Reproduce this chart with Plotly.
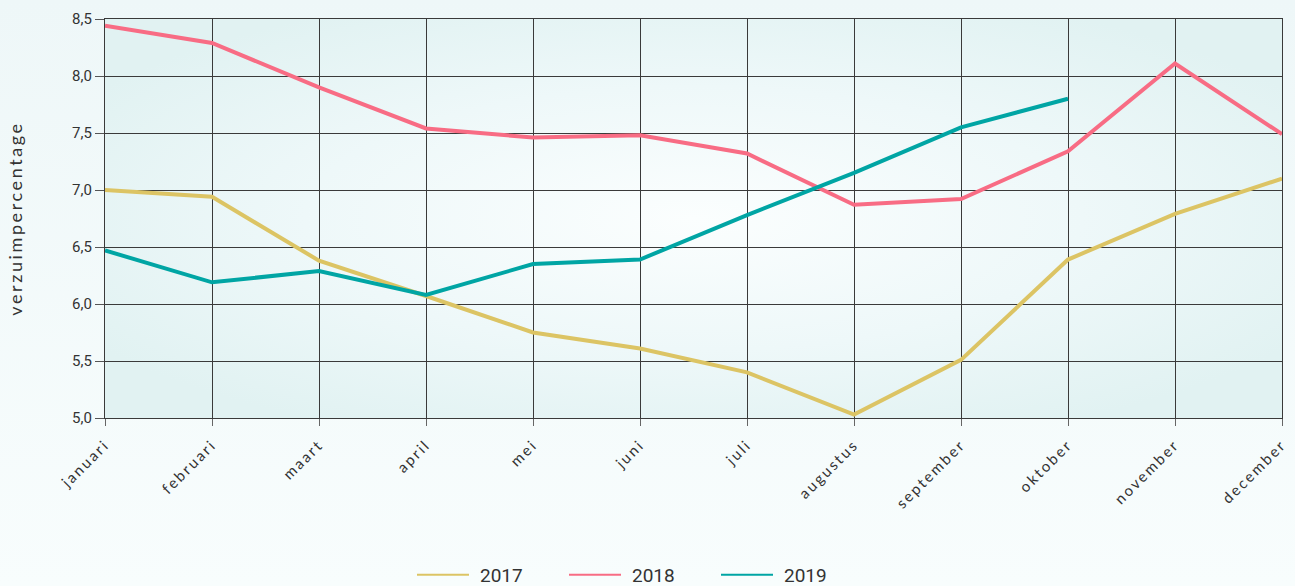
import plotly.graph_objects as go
import base64

months = ["januari", "februari", "maart", "april", "mei", "juni", "juli",
          "augustus", "september", "oktober", "november", "december"]
v2017 = [7.00, 6.94, 6.38, 6.07, 5.75, 5.61, 5.40, 5.03, 5.51, 6.39, 6.79, 7.10]
v2018 = [8.44, 8.29, 7.90, 7.54, 7.46, 7.48, 7.32, 6.87, 6.92, 7.34, 8.11, 7.49]
v2019 = [6.47, 6.19, 6.29, 6.08, 6.35, 6.39, 6.78, 7.15, 7.55, 7.80]
y_ticks = [5.0, 5.5, 6.0, 6.5, 7.0, 7.5, 8.0, 8.5]

colors = {"2017": "#dcc464", "2018": "#f86c84", "2019": "#00a5a4"}

svg_plot = """<svg xmlns='http://www.w3.org/2000/svg' width='1177' height='399' viewBox='0 0 1177 399' preserveAspectRatio='none'>
<defs><radialGradient id='g' cx='50%' cy='50%' r='60%'>
<stop offset='0%' stop-color='#fbfefe'/><stop offset='55%' stop-color='#eef8f9'/><stop offset='100%' stop-color='#e1f2f2'/>
</radialGradient></defs><rect width='1177' height='399' fill='url(#g)'/></svg>"""
svg_paper = """<svg xmlns='http://www.w3.org/2000/svg' width='100' height='100' viewBox='0 0 100 100' preserveAspectRatio='none'>
<defs><linearGradient id='p' x1='0' y1='0' x2='0' y2='1'>
<stop offset='0%' stop-color='#eef7f8'/><stop offset='100%' stop-color='#f8fdfd'/>
</linearGradient></defs><rect width='100' height='100' fill='url(#p)'/></svg>"""

def uri(s):
    return "data:image/svg+xml;base64," + base64.b64encode(s.encode()).decode()

fig = go.Figure()
for name, vals in [("2017", v2017), ("2018", v2018), ("2019", v2019)]:
    fig.add_trace(go.Scatter(x=months[:len(vals)], y=vals, mode="lines", name=name,
                             line=dict(color=colors[name], width=4), showlegend=False))
# legend entries (thin lines as in the reference legend)
for name in ["2017", "2018", "2019"]:
    fig.add_trace(go.Scatter(x=[None], y=[None], mode="lines", name=name,
                             line=dict(color=colors[name], width=2), showlegend=True))

L, R, T, B = 105, 13, 19, 168
W, H = 1295, 586
pw, ph = W - L - R, H - T - B

fig.update_layout(
    width=W, height=H,
    margin=dict(l=L, r=R, t=T, b=B, autoexpand=False),
    paper_bgcolor="#f3fafb",
    plot_bgcolor="rgba(0,0,0,0)",
    separators=",.",
    font=dict(family="Roboto", color="#333333", size=14),
    showlegend=True,
    legend=dict(orientation="h", x=(412 - L) / pw, xanchor="left",
                y=-(575 - 418) / ph, yanchor="middle",
                font=dict(size=19, family="Roboto", color="#333333"),
                itemwidth=58, entrywidth=79, entrywidthmode="pixels",
                bgcolor="rgba(0,0,0,0)", tracegroupgap=0),
    images=[
        dict(source=uri(svg_paper), xref="paper", yref="paper",
             x=-L / pw, y=1 + T / ph, sizex=W / pw, sizey=H / ph,
             sizing="stretch", layer="below", xanchor="left", yanchor="top"),
        dict(source=uri(svg_plot), xref="paper", yref="paper",
             x=0, y=1, sizex=1, sizey=1, sizing="stretch", layer="below",
             xanchor="left", yanchor="top"),
    ],
    xaxis=dict(type="category", categoryorder="array", categoryarray=months,
               range=[0, 11], showgrid=True, gridcolor="#3a3a3a", gridwidth=1.2,
               showline=True, linecolor="#3a3a3a", linewidth=1.2, mirror=True,
               ticks="outside", ticklen=7, tickcolor="#666666", ticklabelstandoff=4,
               tickangle=-45, tickfont=dict(size=15, family="Lato", color="#333333")),
    yaxis=dict(range=[5, 8.5], tickvals=y_ticks, tickformat=".1f",
               showgrid=True, gridcolor="#3a3a3a", gridwidth=1.2,
               showline=True, linecolor="#3a3a3a", linewidth=1.2, mirror=True,
               zeroline=False, ticks="outside", ticklen=9, tickcolor="#555555",
               tickfont=dict(size=15, family="Roboto", color="#333333"),
               title=dict(text="verzuimpercentage", standoff=44,
                          font=dict(size=18, family="Lato", color="#333333"))),
)

post = """
document.body.style.margin='0';
var gd = document.getElementById('{plot_id}');
gd.querySelectorAll('.xtick text').forEach(function(t){t.style.letterSpacing='2.2px';});
gd.querySelectorAll('.ytitle').forEach(function(t){t.style.letterSpacing='2.6px';});
gd.querySelectorAll('.legendlines path').forEach(function(p){p.setAttribute('d','M5,0h52');});
"""

fig.write_html("out.html", post_script=post, config={"displayModeBar": False})
